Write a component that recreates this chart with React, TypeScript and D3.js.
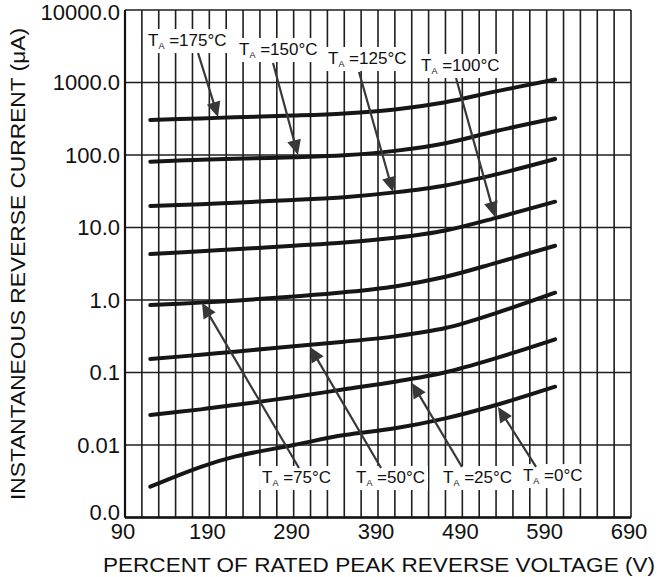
import React from "react";
import * as d3 from "d3";

const W = 658;
const H = 577;
const FONT = "'Liberation Sans', Arial, Helvetica, sans-serif";

const xTicks = [90, 190, 290, 390, 490, 590, 690];
const yTicks = [0.001, 0.01, 0.1, 1, 10, 100, 1000, 10000];
const yTickLabels = ["0.0", "0.01", "0.1", "1.0", "10.0", "100.0", "1000.0", "10000.0"];

const voltage = [120, 180, 220, 290, 350, 410, 470, 530, 600];
const t175 = [305, 320, 331, 350, 375, 425, 535, 755, 1100];
const t150 = [81, 86, 89, 93, 99, 114, 145, 214, 321];
const t125 = [19.8, 21, 22, 24, 26.2, 30.5, 38, 54, 88];
const t100 = [4.3, 4.7, 5.0, 5.6, 6.2, 7.2, 9.1, 13.6, 22.7];
const t75 = [0.85, 0.92, 0.98, 1.12, 1.28, 1.54, 2.09, 3.25, 5.6];
const t50 = [0.153, 0.176, 0.194, 0.23, 0.266, 0.315, 0.41, 0.66, 1.26];
const t25 = [0.026, 0.031, 0.0356, 0.046, 0.0586, 0.0746, 0.101, 0.158, 0.287];
const t0 = [0.00266, 0.005, 0.0069, 0.01, 0.0137, 0.017, 0.0233, 0.0356, 0.0637];

const seriesList = [t175, t150, t125, t100, t75, t50, t25, t0];

// annotation labels (temperature text), label anchor (x, y) in data units,
// arrow tail and tip in data units
const labelTemps = ["175", "150", "125", "100", "75", "50", "25", "0"];
const labelX = [117.3, 225.2, 330.7, 441.0, 252.5, 363.9, 467.1, 561.9];
const labelY = [3184, 2395, 1799, 1442, 0.00299, 0.00299, 0.00299, 0.00318];
const tailX = [176.6, 265.5, 367.5, 482.5, 296.3, 393.6, 489.6, 577.4];
const tailY = [2553, 1858, 1396, 1153, 0.00482, 0.00482, 0.00498, 0.00498];
const tipX = [200.3, 295.1, 407.8, 528.7, 181.3, 309.4, 430.3, 532.3];
const tipY = [334, 100, 30.9, 14.0, 0.91, 0.225, 0.0716, 0.0334];

const margin = { left: 125, right: 27, top: 10, bottom: 59.5 };

let measureCtx: CanvasRenderingContext2D | null = null;
function textWidth(s: string, size: number) {
  if (!measureCtx) {
    const c = document.createElement("canvas");
    measureCtx = c.getContext("2d");
  }
  if (!measureCtx) return s.length * size * 0.55;
  measureCtx.font = `${size}px ${FONT}`;
  return measureCtx.measureText(s).width;
}

export default function App() {
  const x = d3.scaleLinear().domain([90, 690]).range([margin.left, W - margin.right]);
  const y = d3.scaleLog().domain([0.001, 10000]).range([H - margin.bottom, margin.top]);

  const line = d3
    .line<number>()
    .x((_, i) => x(voltage[i]))
    .y((d) => y(d))
    .curve(d3.curveCatmullRom.alpha(0.5));

  const vGrid = d3.range(90, 691, 20);
  const gridColor = "#1e1e1e";
  const arrowColor = "#383838";
  const bottomY = y(0.001);

  return (
    <svg
      width={W}
      height={H}
      style={{ position: "absolute", left: 0, top: 0, background: "#fff" }}
      fontFamily={FONT}
    >
      <rect x={0} y={0} width={W} height={H} fill="#fff" />
      {/* grid */}
      {vGrid.map((v) => (
        <line key={"v" + v} x1={x(v)} x2={x(v)} y1={y(10000)} y2={bottomY} stroke={gridColor} strokeWidth={1.6} />
      ))}
      {yTicks.map((t) => (
        <line key={"h" + t} x1={x(90)} x2={x(690)} y1={y(t)} y2={y(t)} stroke={gridColor} strokeWidth={1.6} />
      ))}
      <line x1={x(90)} x2={x(690)} y1={bottomY} y2={bottomY} stroke="#111" strokeWidth={2.4} />
      <line x1={x(90)} x2={x(90)} y1={y(10000)} y2={bottomY} stroke="#111" strokeWidth={2.2} />

      {/* curves */}
      {seriesList.map((s, i) => (
        <path key={"c" + i} d={line(s) || ""} fill="none" stroke="#161616" strokeWidth={4} strokeLinecap="round" />
      ))}

      {/* annotations */}
      {labelTemps.map((t, i) => {
        const lx = x(labelX[i]);
        const ly = y(labelY[i]);
        const rest = " =" + t + "°C";
        const w = textWidth("T", 17) + textWidth("A", 9) + textWidth(rest, 17);
        const x1 = x(tailX[i]);
        const y1 = y(tailY[i]);
        const x2 = x(tipX[i]);
        const y2 = y(tipY[i]);
        const dx = x2 - x1;
        const dy = y2 - y1;
        const len = Math.hypot(dx, dy);
        const ux = dx / len;
        const uy = dy / len;
        const hl = 15;
        const hw = 7;
        const bx = x2 - ux * hl;
        const by = y2 - uy * hl;
        const pts = [
          [x2, y2],
          [bx - uy * hw, by + ux * hw],
          [bx + uy * hw, by - ux * hw],
        ]
          .map((p) => p.join(","))
          .join(" ");
        return (
          <g key={"a" + i}>
            <rect x={lx - 3} y={ly - 17} width={w + 6} height={24} fill="#fff" />
            <line x1={x1} y1={y1} x2={bx + ux * 2} y2={by + uy * 2} stroke={arrowColor} strokeWidth={2.2} />
            <polygon points={pts} fill={arrowColor} />
            <text x={lx} y={ly} fontSize={17} fill="#111">
              <tspan>T</tspan>
              <tspan fontSize={9} dy={3}>A</tspan>
              <tspan dy={-3}>{rest}</tspan>
            </text>
          </g>
        );
      })}

      {/* y tick labels */}
      {yTicks.map((t, i) => (
        <text
          key={"yl" + t}
          x={x(90) - 5}
          y={Math.max(Math.min(y(t) + 7.5, bottomY + 2.5), 20)}
          fontSize={22}
          textAnchor="end"
          fill="#111"
        >
          {yTickLabels[i]}
        </text>
      ))}
      {/* x tick labels */}
      {xTicks.map((t) => (
        <text key={"xl" + t} x={x(t) - 2} y={539} fontSize={22} textAnchor="middle" fill="#111">
          {t}
        </text>
      ))}

      {/* axis titles */}
      <text x={379} y={572} fontSize={21} textAnchor="middle" fill="#111" textLength={552} lengthAdjust="spacingAndGlyphs">
        PERCENT OF RATED PEAK REVERSE VOLTAGE (V)
      </text>
      <text
        transform="translate(25,264) rotate(-90)"
        fontSize={21}
        textAnchor="middle"
        fill="#111"
        textLength={472}
        lengthAdjust="spacingAndGlyphs"
      >
        INSTANTANEOUS REVERSE CURRENT (μA)
      </text>
    </svg>
  );
}
